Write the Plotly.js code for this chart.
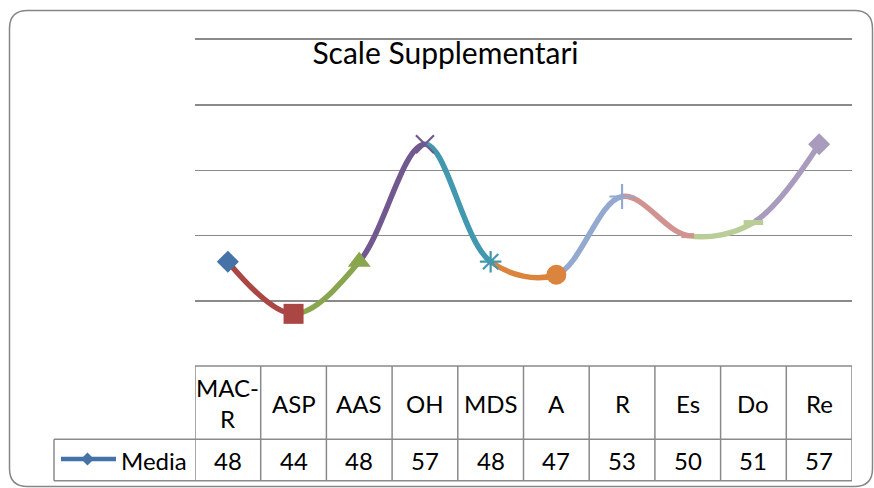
<!DOCTYPE html>
<html><head><meta charset="utf-8">
<script src="https://cdn.plot.ly/plotly-3.0.1.min.js"></script>
<style>html,body{margin:0;padding:0;background:#fff}</style>
</head><body><div id="chart" style="width:874px;height:488px"></div>
<script>
// ---- data ----
const categories = ['MAC-R','ASP','AAS','OH','MDS','A','R','Es','Do','Re'];
const media = [48,44,48,57,48,47,53,50,51,57];
const seriesName = 'Media';
const chartTitle = 'Scale Supplementari';
const pointColors = ['#4572A7','#AA4643','#89A54E','#71588F','#4198AF','#DB843D','#93A9CF','#D19392','#B9CD96','#A99BBD'];
const markerSymbols = ['diamond','square','triangle-up','x-thin-open','asterisk-open','circle','cross-thin-open','line-ew-open','line-ew-open','diamond'];
const markerSizes = [17,20,20,18,18,20,18,9,14,17];
const markerLineWidths = [0,0,0,2.2,2.2,0,2.2,5,5,0];

// ---- geometry ----
const W=874,H=488,L=195,R=22,T=40,B=122;
const PW=W-L-R, PH=H-T-B;
const px = v => (v-L)/PW;
const py = v => (H-B-v)/PH;
const FONT = 'Lato, "Open Sans", sans-serif';
const N = categories.length;
const idx = categories.map((c,i)=>i);
const gridCol = '#8a8a8a';

const traces = [];
// dummy on main subplot (carries gridlines)
traces.push({x:idx, y:media, mode:'none', xaxis:'x', yaxis:'y', hoverinfo:'skip', showlegend:false});

const layout = {
  width:W, height:H,
  margin:{l:L,r:R,t:T,b:B,pad:0},
  paper_bgcolor:'#fff', plot_bgcolor:'rgba(0,0,0,0)',
  showlegend:false,
  title:{text:chartTitle, font:{family:FONT,size:30,color:'#000'}, x:445.5/W, xanchor:'center', y:1-53/H, yanchor:'middle'},
  xaxis:{domain:[0,1], range:[-0.5,N-0.5], visible:true, side:'top', showline:true, linecolor:gridCol, linewidth:2,
         showticklabels:false, ticks:'', showgrid:false, zeroline:false, anchor:'y'},
  yaxis:{domain:[0,1], range:[40,65], dtick:5, tick0:40, showgrid:true, gridcolor:gridCol, gridwidth:1.5,
         showticklabels:false, ticks:'', showline:false, zeroline:false, anchor:'x'},
  yaxis2:{domain:[0,1], range:[40,65], visible:false, anchor:'x'+(N+1)},
  shapes:[], annotations:[]
};

// smoothed segments, each clipped to its own interval
for(let i=0;i<N-1;i++){
  const k=i+2;
  const lo=Math.max(0,i-1), hi=Math.min(N-1,i+2);
  const xs=[], ys=[];
  for(let j=lo;j<=hi;j++){xs.push(j); ys.push(media[j]);}
  layout['xaxis'+k]={domain:[(i+0.5)/N,(i+1.5)/N], range:[i,i+1], visible:false, anchor:'y2'};
  traces.push({x:xs, y:ys, mode:'lines', xaxis:'x'+k, yaxis:'y2', hoverinfo:'skip', showlegend:false,
    line:{color:pointColors[i+1], width:5.5, shape:'spline', smoothing:1}});
}
// markers on top
layout['xaxis'+(N+1)]={domain:[0,1], range:[-0.5,N-0.5], visible:false, anchor:'y2'};
traces.push({x:idx, y:media, mode:'markers', name:seriesName, xaxis:'x'+(N+1), yaxis:'y2', hoverinfo:'skip',
  marker:{symbol:markerSymbols, size:markerSizes, sizemode:'diameter', sizeref:1, opacity:1, color:pointColors,
          line:{width:markerLineWidths, color:pointColors}}});

// ---- data table ----
const yTop=366, yMid=439.3, yBot=480.7, xLeg=54;
const ln = (x0,y0,x1,y1,xref)=>({type:'line', xref:xref, yref:'paper', x0:x0,x1:x1,y0:py(y0),y1:py(y1), line:{color:gridCol,width:1.5}});
layout.shapes.push(ln(-0.5,yTop,N-0.5,yTop,'x'));
layout.shapes.push(ln(px(xLeg),yMid,px(L+PW),yMid,'paper'));
layout.shapes.push(ln(px(xLeg),yBot,px(L+PW),yBot,'paper'));
layout.shapes.push(ln(px(xLeg),yMid,px(xLeg),yBot,'paper'));
for(let i=0;i<=N;i++) layout.shapes.push(ln(i-0.5,yTop,i-0.5,yBot,'x'));

const tf = {family:FONT,size:24,color:'#000'};
categories.forEach((c,i)=>{
  layout.annotations.push({x:i, xref:'x', y:py(403), yref:'paper', text:c.includes('-')?c.replace('-','-<br>'):c,
    showarrow:false, font:tf, xanchor:'center', yanchor:'middle'});
  layout.annotations.push({x:i, xref:'x', y:py(460), yref:'paper', text:String(media[i]),
    showarrow:false, font:tf, xanchor:'center', yanchor:'middle'});
});
layout.annotations.push({x:px(119), xref:'paper', y:py(460), yref:'paper', text:seriesName, showarrow:false, font:tf, xanchor:'left', yanchor:'middle'});
// legend key
layout.shapes.push({type:'line', xref:'paper', yref:'paper', x0:px(61), x1:px(116), y0:py(459), y1:py(459), line:{color:pointColors[0], width:4.5}});
layout.shapes.push({type:'path', xref:'paper', yref:'paper',
  path:`M${px(81)},${py(459)} L${px(87.5)},${py(452.5)} L${px(94)},${py(459)} L${px(87.5)},${py(465.5)} Z`,
  fillcolor:pointColors[0], line:{width:0}});

// outer rounded border
(function(){
  const x0=9.5,y0=10.5,x1=872.5,y1=486.5,r=18;
  const p=`M${px(x0+r)},${py(y0)} L${px(x1-r)},${py(y0)} Q${px(x1)},${py(y0)} ${px(x1)},${py(y0+r)} L${px(x1)},${py(y1-r)} Q${px(x1)},${py(y1)} ${px(x1-r)},${py(y1)} L${px(x0+r)},${py(y1)} Q${px(x0)},${py(y1)} ${px(x0)},${py(y1-r)} L${px(x0)},${py(y0+r)} Q${px(x0)},${py(y0)} ${px(x0+r)},${py(y0)} Z`;
  layout.shapes.push({type:'path', xref:'paper', yref:'paper', path:p, line:{color:'#868686',width:1.5}, fillcolor:'rgba(0,0,0,0)'});
})();

Plotly.newPlot('chart', traces, layout, {staticPlot:true, displayModeBar:false});
</script></body></html>
